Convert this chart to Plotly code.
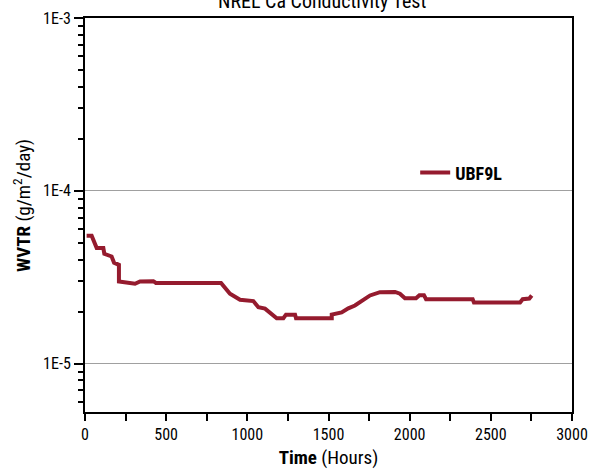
import plotly.graph_objects as go

hours = [10, 41, 72, 113, 119, 164, 179, 209, 209, 308, 339, 421, 437, 838, 893, 955, 1037,
         1068, 1109, 1181, 1222, 1238, 1294, 1300, 1520, 1520, 1581, 1622, 1663, 1705, 1756,
         1817, 1910, 1940, 1971, 2039, 2060, 2088, 2101, 2388, 2396, 2680, 2696, 2737, 2752]
wvtr = [5.5e-5, 5.5e-5, 4.66e-5, 4.66e-5, 4.32e-5, 4.17e-5, 3.84e-5, 3.73e-5, 2.99e-5, 2.90e-5,
        2.99e-5, 3.0e-5, 2.93e-5, 2.93e-5, 2.54e-5, 2.34e-5, 2.30e-5, 2.12e-5, 2.08e-5, 1.83e-5,
        1.83e-5, 1.92e-5, 1.92e-5, 1.83e-5, 1.83e-5, 1.92e-5, 1.98e-5, 2.09e-5, 2.17e-5, 2.29e-5,
        2.48e-5, 2.59e-5, 2.60e-5, 2.54e-5, 2.39e-5, 2.39e-5, 2.49e-5, 2.49e-5, 2.36e-5, 2.36e-5,
        2.26e-5, 2.26e-5, 2.36e-5, 2.38e-5, 2.48e-5]

series_name = "UBF9L"
title_text = "NREL Ca Conductivity Test"
y_title = "<b>WVTR</b> (g/m<sup>2</sup>/day)"
x_title = "<b>Time</b> (Hours)"
y_tickvals = [1e-3, 1e-4, 1e-5]
y_ticktext = ["1E-3", "1E-4", "1E-5"]
y_minor_vals = [m * 10 ** e for e in (-4, -5, -6) for m in range(2, 10) if m * 10 ** e >= 5e-6]
x_tickvals = [0, 500, 1000, 1500, 2000, 2500, 3000]
x_minor_vals = [250, 750, 1250, 1750, 2250, 2750]

FONT = "Liberation Sans Narrow, Roboto Condensed, Arial Narrow, Liberation Sans, sans-serif"

fig = go.Figure()
fig.add_trace(go.Scatter(x=hours, y=wvtr, mode="lines", name="<b>" + series_name + "</b>",
                         line=dict(color="#951b2e", width=4)))

fig.update_layout(
    width=591, height=469,
    margin=dict(l=85, r=19, t=18, b=57, autoexpand=False),
    paper_bgcolor="white", plot_bgcolor="white",
    font=dict(family=FONT, size=16, color="black"),
    showlegend=True,
    legend=dict(x=0.678, y=0.607, xanchor="left", yanchor="middle",
                bgcolor="rgba(0,0,0,0)", font=dict(size=18, family=FONT)),
)

fig.add_annotation(text=title_text, xref="paper", yref="paper", x=0.487, y=(412 - 1) / 394,
                   yanchor="middle", xanchor="center", showarrow=False,
                   font=dict(size=20, family=FONT, color="black"))
fig.add_annotation(text=y_title, xref="paper", yref="paper", x=(22 - 85) / 487,
                   y=(412 - 206) / 394, xanchor="center", yanchor="middle", textangle=-90,
                   showarrow=False, font=dict(size=19, family=FONT, color="black"))

fig.update_xaxes(
    range=[0, 3000], tickvals=x_tickvals, ticks="outside", ticklen=7, tickwidth=1.5,
    tickcolor="black", showline=True, linecolor="black", linewidth=2, mirror=True,
    showgrid=False, zeroline=False, automargin=False,
    minor=dict(tickvals=x_minor_vals, ticks="outside", ticklen=7,
               tickwidth=1.5, tickcolor="black", showgrid=False),
    title=dict(text=x_title, font=dict(size=19, family=FONT), standoff=8),
    tickfont=dict(size=16, family=FONT),
)
fig.update_yaxes(
    type="log", range=[-5.28, -3], tickvals=y_tickvals, ticktext=y_ticktext,
    ticks="outside", ticklen=9, tickwidth=1.5, tickcolor="black",
    showline=True, linecolor="black", linewidth=2, mirror=True,
    showgrid=True, gridcolor="#a0a0a0", gridwidth=1, zeroline=False, automargin=False,
    minor=dict(tickvals=y_minor_vals, ticks="outside", ticklen=5, tickwidth=1.5,
               tickcolor="black", showgrid=False),
    tickfont=dict(size=16, family=FONT),
)

fig.write_html("out.html", config={"displayModeBar": False},
               post_script="document.body.style.margin='0';")
